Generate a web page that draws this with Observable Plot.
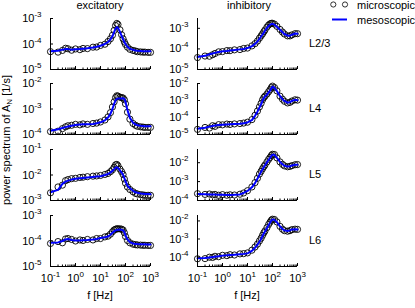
<!DOCTYPE html>
<html><head><meta charset="utf-8">
<script src="https://cdn.jsdelivr.net/npm/d3@7"></script>
<script src="https://cdn.jsdelivr.net/npm/@observablehq/plot@0.6"></script>
<style>
body{margin:0;background:#fff;}
#chart{position:relative;width:415px;height:308px;overflow:hidden;font-family:"Liberation Sans",Arial,sans-serif;font-size:11px;color:#000;}
#chart svg{position:absolute;}
</style></head><body><div id="chart"></div>
<script>
// frequency grid [Hz]
const freqs = [0.1,0.2,0.3,0.4,0.5,0.7,1,1.5,2,3,5,7,10,15,20,25,30,35,40,45,50,60,70,80,90,100,120,150,200,250,300,400,500,600,800,1000];

const excL23Meso = [5.2e-5,5.4e-5,6.0e-5,6.3e-5,6.3e-5,6.0e-5,6.2e-5,6.3e-5,6.5e-5,6.8e-5,7.3e-5,7.8e-5,8.5e-5,1.0e-4,1.2e-4,1.5e-4,2.0e-4,2.9e-4,4.0e-4,4.6e-4,4.3e-4,3.0e-4,2.1e-4,1.55e-4,1.2e-4,1.0e-4,7.8e-5,6.5e-5,5.9e-5,5.6e-5,5.4e-5,5.3e-5,5.2e-5,5.2e-5,5.2e-5,5.2e-5];
const excL23Micro = [5.0e-5,4.8e-5,5.6e-5,6.8e-5,6.5e-5,5.7e-5,6.4e-5,6.0e-5,6.7e-5,6.6e-5,7.5e-5,7.6e-5,8.8e-5,9.8e-5,1.25e-4,1.6e-4,2.2e-4,3.4e-4,5.3e-4,6.4e-4,5.8e-4,3.6e-4,2.3e-4,1.6e-4,1.2e-4,9.6e-5,7.5e-5,6.2e-5,5.6e-5,5.3e-5,5.0e-5,4.9e-5,4.8e-5,4.8e-5,4.7e-5,4.7e-5];

const excL4Meso = [1.4e-4,1.6e-4,1.8e-4,1.95e-4,2.05e-4,2.2e-4,2.35e-4,2.45e-4,2.5e-4,2.55e-4,2.6e-4,2.75e-4,3.0e-4,3.6e-4,4.6e-4,6.5e-4,1.0e-3,1.6e-3,2.2e-3,2.5e-3,2.6e-3,2.6e-3,2.6e-3,2.65e-3,2.5e-3,1.9e-3,9.0e-4,4.5e-4,2.9e-4,2.5e-4,2.3e-4,2.2e-4,2.15e-4,2.1e-4,2.1e-4,2.1e-4];
const excL4Micro = [1.3e-4,1.35e-4,1.7e-4,2.0e-4,2.2e-4,2.3e-4,2.5e-4,2.4e-4,2.6e-4,2.5e-4,2.7e-4,2.8e-4,3.1e-4,3.7e-4,4.9e-4,7.2e-4,1.2e-3,1.9e-3,2.8e-3,3.3e-3,3.2e-3,2.9e-3,2.8e-3,2.7e-3,2.3e-3,1.6e-3,7.5e-4,4.0e-4,2.7e-4,2.3e-4,2.1e-4,2.0e-4,1.95e-4,1.9e-4,1.9e-4,1.9e-4];

const excL5Meso = [2.1e-3,2.6e-3,4.5e-3,5.5e-3,6.0e-3,6.6e-3,7.1e-3,7.5e-3,7.7e-3,8.0e-3,8.4e-3,8.7e-3,9.0e-3,1.0e-2,1.1e-2,1.25e-2,1.45e-2,1.7e-2,1.95e-2,2.0e-2,1.9e-2,1.5e-2,1.25e-2,1.0e-2,7.5e-3,5.6e-3,3.8e-3,3.0e-3,2.4e-3,2.1e-3,2.0e-3,1.9e-3,1.85e-3,1.8e-3,1.8e-3,1.75e-3];
const excL5Micro = [2.0e-3,3.4e-3,4.0e-3,6.0e-3,6.6e-3,7.2e-3,7.4e-3,8.0e-3,8.2e-3,8.6e-3,9.0e-3,9.2e-3,9.6e-3,1.05e-2,1.15e-2,1.35e-2,1.6e-2,2.0e-2,2.5e-2,2.6e-2,2.3e-2,1.7e-2,1.35e-2,1.05e-2,7.0e-3,4.8e-3,3.4e-3,2.7e-3,2.2e-3,1.9e-3,1.8e-3,1.7e-3,1.65e-3,1.6e-3,1.6e-3,1.6e-3];

const excL6Meso = [8.5e-5,8.8e-5,1.0e-4,1.15e-4,1.2e-4,1.1e-4,1.05e-4,1.05e-4,1.08e-4,1.1e-4,1.15e-4,1.2e-4,1.3e-4,1.4e-4,1.5e-4,1.75e-4,2.1e-4,2.4e-4,2.6e-4,2.7e-4,2.75e-4,2.8e-4,2.75e-4,2.6e-4,2.2e-4,1.65e-4,1.15e-4,9.0e-5,8.0e-5,7.7e-5,7.6e-5,7.5e-5,7.4e-5,7.4e-5,7.3e-5,7.3e-5];
const excL6Micro = [8.0e-5,9.5e-5,8.5e-5,1.2e-4,1.25e-4,1.15e-4,1.0e-4,1.1e-4,1.05e-4,1.15e-4,1.1e-4,1.25e-4,1.25e-4,1.45e-4,1.55e-4,1.85e-4,2.3e-4,2.7e-4,2.9e-4,3.0e-4,3.0e-4,3.0e-4,2.9e-4,2.7e-4,2.1e-4,1.5e-4,1.05e-4,8.5e-5,7.5e-5,7.2e-5,7.0e-5,6.9e-5,6.8e-5,6.8e-5,6.7e-5,6.7e-5];

const inhL23Meso = [4.0e-5,4.6e-5,5.5e-5,6.0e-5,6.4e-5,7.0e-5,7.6e-5,8.0e-5,8.4e-5,8.8e-5,9.5e-5,1.0e-4,1.1e-4,1.35e-4,1.75e-4,2.3e-4,3.1e-4,4.0e-4,5.0e-4,6.2e-4,7.6e-4,1.05e-3,1.3e-3,1.5e-3,1.6e-3,1.65e-3,1.5e-3,1.2e-3,8.5e-4,6.5e-4,5.3e-4,4.4e-4,4.4e-4,4.9e-4,5.6e-4,5.4e-4];
const inhL23Micro = [3.8e-5,4.5e-5,4.4e-5,5.2e-5,6.0e-5,7.2e-5,7.4e-5,8.3e-5,8.2e-5,9.0e-5,9.3e-5,1.05e-4,1.1e-4,1.4e-4,1.8e-4,2.4e-4,3.3e-4,4.3e-4,5.4e-4,6.8e-4,8.3e-4,1.15e-3,1.45e-3,1.65e-3,1.75e-3,1.75e-3,1.6e-3,1.25e-3,8.8e-4,6.6e-4,5.3e-4,4.3e-4,4.3e-4,4.8e-4,5.5e-4,5.5e-4];

const inhL4Meso = [2.2e-5,2.5e-5,2.9e-5,3.2e-5,3.4e-5,3.6e-5,3.8e-5,3.9e-5,4.0e-5,4.1e-5,4.3e-5,4.6e-5,5.1e-5,7.0e-5,1.26e-4,2.2e-4,3.8e-4,6.0e-4,1.0e-3,1.4e-3,1.7e-3,2.2e-3,3.0e-3,3.8e-3,5.2e-3,6.5e-3,5.5e-3,3.6e-3,1.8e-3,1.2e-3,9.4e-4,7.4e-4,8.0e-4,9.5e-4,1.1e-3,1.05e-3];
const inhL4Micro = [2.0e-5,2.6e-5,2.4e-5,3.3e-5,3.0e-5,3.8e-5,3.7e-5,4.1e-5,3.9e-5,4.2e-5,4.4e-5,4.7e-5,5.3e-5,7.5e-5,1.35e-4,2.4e-4,4.2e-4,6.8e-4,1.1e-3,1.5e-3,1.8e-3,2.4e-3,3.3e-3,4.3e-3,5.8e-3,7.0e-3,5.8e-3,3.7e-3,1.8e-3,1.2e-3,9.0e-4,7.2e-4,7.8e-4,9.3e-4,1.1e-3,1.05e-3];

const inhL5Meso = [2.2e-4,2.15e-4,2.1e-4,2.1e-4,2.05e-4,2.0e-4,2.0e-4,1.95e-4,1.95e-4,2.0e-4,2.1e-4,2.5e-4,3.2e-4,5.0e-4,8.3e-4,1.4e-3,2.3e-3,3.3e-3,4.5e-3,5.8e-3,7.1e-3,1.05e-2,1.4e-2,1.8e-2,2.3e-2,2.6e-2,2.6e-2,1.8e-2,1.1e-2,8.3e-3,7.0e-3,6.3e-3,6.5e-3,7.1e-3,7.8e-3,7.8e-3];
const inhL5Micro = [2.3e-4,2.1e-4,2.2e-4,2.0e-4,2.1e-4,1.9e-4,2.05e-4,1.9e-4,2.0e-4,1.95e-4,2.15e-4,2.5e-4,3.3e-4,5.2e-4,8.8e-4,1.5e-3,2.5e-3,3.5e-3,4.8e-3,6.2e-3,7.6e-3,1.1e-2,1.5e-2,1.9e-2,2.4e-2,2.8e-2,2.7e-2,1.8e-2,1.1e-2,8.2e-3,6.8e-3,6.1e-3,6.4e-3,7.0e-3,7.8e-3,8.0e-3];

const inhL6Meso = [8.5e-5,8.8e-5,9.5e-5,1.0e-4,1.05e-4,1.1e-4,1.2e-4,1.25e-4,1.3e-4,1.35e-4,1.45e-4,1.5e-4,1.6e-4,2.2e-4,3.3e-4,4.8e-4,7.1e-4,1.0e-3,1.5e-3,2.0e-3,2.6e-3,4.0e-3,6.0e-3,8.0e-3,1.05e-2,1.2e-2,1.15e-2,8.5e-3,5.0e-3,3.6e-3,3.0e-3,2.8e-3,3.0e-3,3.4e-3,3.5e-3,3.4e-3];
const inhL6Micro = [8.0e-5,8.2e-5,9.8e-5,9.5e-5,1.1e-4,1.05e-4,1.25e-4,1.2e-4,1.35e-4,1.3e-4,1.5e-4,1.55e-4,1.7e-4,2.4e-4,3.6e-4,5.2e-4,7.8e-4,1.1e-3,1.6e-3,2.2e-3,2.8e-3,4.3e-3,6.4e-3,8.6e-3,1.1e-2,1.25e-2,1.2e-2,8.8e-3,5.0e-3,3.5e-3,2.9e-3,2.7e-3,2.9e-3,3.3e-3,3.5e-3,3.4e-3];

// axes
const xTickValues = [0.1,1,10,100,1000];
const xTickLabels = ["10^-1","10^0","10^1","10^2","10^3"];
const xMinorTicks = [0.2,0.3,0.4,0.5,0.6,0.7,0.8,0.9,2,3,4,5,6,7,8,9,20,30,40,50,60,70,80,90,200,300,400,500,600,700,800,900];
const columns = ["excitatory","inhibitory"];
const layers = ["L2/3","L4","L5","L6"];
const yDomains = {
  excitatory: [[1e-5,1e-3],[1e-4,1e-2],[1e-3,1e-1],[1e-5,1e-3]],
  inhibitory: [[1e-5,3e-3],[1e-5,1e-2],[1e-4,5e-2],[3e-5,2e-2]]
};
const yTickValues = {
  excitatory: [[1e-5,1e-4,1e-3],[1e-4,1e-3,1e-2],[1e-3,1e-2,1e-1],[1e-5,1e-4,1e-3]],
  inhibitory: [[1e-5,1e-4,1e-3],[1e-5,1e-4,1e-3,1e-2],[1e-4,1e-3,1e-2],[1e-4,1e-3,1e-2]]
};
const series = {
  excitatory: [[excL23Micro,excL23Meso],[excL4Micro,excL4Meso],[excL5Micro,excL5Meso],[excL6Micro,excL6Meso]],
  inhibitory: [[inhL23Micro,inhL23Meso],[inhL4Micro,inhL4Meso],[inhL5Micro,inhL5Meso],[inhL6Micro,inhL6Meso]]
};

// layout
const boxLeft = {excitatory: 50, inhibitory: 197};
const boxTop = [18, 83, 149, 215];
const boxW = 100, boxH = 51;
const chart = document.getElementById("chart");
const FONT = '"Liberation Sans", Arial, sans-serif';
const NS = "http://www.w3.org/2000/svg";

function supify(svg) {
  svg.querySelectorAll("text").forEach(t => {
    const m = /^10\^(-?\d+)$/.exec(t.textContent.trim());
    if (!m) return;
    t.textContent = "";
    const a = document.createElementNS(NS, "tspan"); a.textContent = "10";
    const b = document.createElementNS(NS, "tspan"); b.textContent = m[1];
    b.setAttribute("font-size", "8"); b.setAttribute("dy", "-5");
    t.appendChild(a); t.appendChild(b);
  });
}
const expLabel = v => "10^" + Math.round(Math.log10(v));

columns.forEach(col => {
  layers.forEach((layer, r) => {
    const [micro, meso] = series[col][r];
    const rows = freqs.map((f, i) => ({f, micro: micro[i], meso: meso[i]}));
    const dom = yDomains[col][r];
    const bottom = r === 3;
    const ml = 40, mr = 6, mt = 6, mb = bottom ? 30 : 6;
    const svg = Plot.plot({
      width: boxW + ml + mr, height: boxH + mt + mb,
      marginLeft: ml, marginRight: mr, marginTop: mt, marginBottom: mb,
      x: {type: "log", domain: [0.1, 1000], label: null},
      y: {type: "log", domain: dom, label: null},
      style: {fontFamily: FONT, fontSize: "11px", background: "transparent", overflow: "visible", color: "black"},
      marks: [
        Plot.dot(rows, {x: "f", y: "micro", r: 3.1, stroke: "black", strokeWidth: 0.9, fill: "none"}),
        Plot.line(rows, {x: "f", y: "meso", stroke: "#0000ff", strokeWidth: 2}),
        Plot.ruleX([0.1], {stroke: "black", strokeWidth: 1}),
        Plot.ruleY([dom[0]], {stroke: "black", strokeWidth: 1}),
        Plot.axisX({ticks: xMinorTicks, tickSize: -1.5, tickFormat: () => "", label: null}),
        Plot.axisX({ticks: xTickValues, tickSize: -3, tickFormat: () => "", label: null}),
        bottom ? Plot.axisX({ticks: xTickValues, tickSize: 0, tickPadding: 8, tickFormat: v => xTickLabels[xTickValues.indexOf(v)], label: null}) : null,
        Plot.axisY({ticks: yTickValues[col][r], tickSize: -3, tickFormat: () => "", label: null}),
        Plot.axisY({ticks: yTickValues[col][r], tickSize: 0, tickPadding: 9, tickFormat: expLabel, label: null})
      ]
    });
    svg.style.left = (boxLeft[col] - ml) + "px";
    svg.style.top = (boxTop[r] - mt) + "px";
    svg.style.maxWidth = "none";
    supify(svg);
    chart.appendChild(svg);
  });
});

// annotations
const ov = d3.select(chart).append("svg")
  .attr("width", 415).attr("height", 308)
  .style("left", "0px").style("top", "0px")
  .attr("font-family", FONT).attr("font-size", 11).attr("fill", "black");
const titleX = {excitatory: 100, inhibitory: 249};
columns.forEach(c => ov.append("text").attr("x", titleX[c]).attr("y", 8.5).attr("text-anchor", "middle").text(c));
const layerY = [47, 112, 178, 244];
layers.forEach((l, i) => ov.append("text").attr("x", 309).attr("y", layerY[i]).text(l));
columns.forEach(c => ov.append("text").attr("x", boxLeft[c] + boxW / 2).attr("y", 299).attr("text-anchor", "middle").text("f [Hz]"));
const yl = ov.append("text").attr("transform", "translate(10,140) rotate(-90)").attr("text-anchor", "middle");
yl.append("tspan").text("power spectrum of A");
yl.append("tspan").attr("font-size", 8).attr("dy", 2).text("N");
yl.append("tspan").attr("dy", -2).text(" [1/s]");
// legend
const legendNames = ["microscopic", "mesoscopic"];
[333.3, 345].forEach(cx => ov.append("circle").attr("cx", cx).attr("cy", 4.5).attr("r", 2.6).attr("fill", "none").attr("stroke", "black").attr("stroke-width", 0.8));
ov.append("line").attr("x1", 332).attr("x2", 347).attr("y1", 19.5).attr("y2", 19.5).attr("stroke", "#0000ff").attr("stroke-width", 2);
ov.append("text").attr("x", 357).attr("y", 8.5).text(legendNames[0]);
ov.append("text").attr("x", 357).attr("y", 23.5).text(legendNames[1]);
</script></body></html>
